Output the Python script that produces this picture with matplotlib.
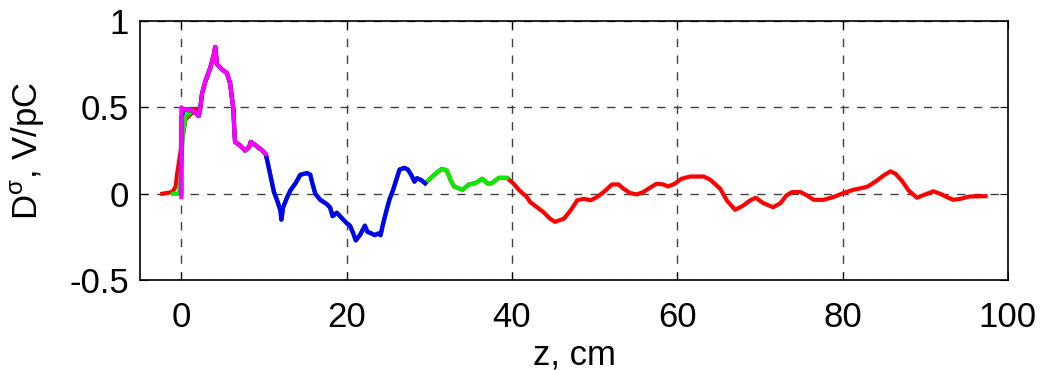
import matplotlib
matplotlib.use("Agg")
import matplotlib.pyplot as plt

plt.rcParams['font.family'] = ['Liberation Sans', 'DejaVu Sans']
plt.rcParams['mathtext.fontset'] = 'custom'
plt.rcParams['mathtext.rm'] = 'Liberation Sans'

# shared segments (z in cm, D in V/pC)
peak_z = [0.3, 1.5, 2.1, 2.3, 2.5, 2.9, 3.5, 3.9, 4.1, 4.3, 4.9, 5.5, 5.9, 6.1, 6.3, 6.4, 6.5,
          7.1, 7.7, 8.2, 8.4, 9.0, 9.8, 10.2]
peak_d = [0.49, 0.48, 0.45, 0.50, 0.58, 0.65, 0.73, 0.80, 0.85, 0.75, 0.72, 0.70, 0.64, 0.56, 0.49,
          0.37, 0.30, 0.28, 0.25, 0.27, 0.30, 0.28, 0.25, 0.23]

mid_z = [10.4, 10.8, 11.2, 11.6, 12.0, 12.1, 12.3, 12.8, 13.2, 13.8, 14.4, 15.2, 15.6, 15.8, 16.2,
         16.8, 17.6, 18.0, 18.3, 18.8, 19.4, 20.0, 20.4, 20.8, 21.1, 21.6, 22.2, 22.5, 23.0, 23.4,
         23.8, 24.1, 24.4, 24.8, 25.2, 25.6, 26.0, 26.4, 27.0, 27.4, 27.8, 28.2, 28.5, 29.0, 29.5]
mid_d = [0.19, 0.10, 0.01, -0.04, -0.10, -0.15, -0.08, -0.02, 0.02, 0.06, 0.11, 0.12, 0.11, 0.07, 0.0,
         -0.035, -0.06, -0.08, -0.13, -0.11, -0.14, -0.17, -0.185, -0.23, -0.27, -0.24, -0.185, -0.22, -0.23, -0.24,
         -0.23, -0.24, -0.175, -0.10, -0.03, 0.02, 0.08, 0.14, 0.15, 0.14, 0.11, 0.07, 0.09, 0.08, 0.06]

grn_z = [30.5, 31.5, 32.1, 32.6, 33.0, 34.0, 34.8, 35.6, 36.4, 37.1, 37.6, 38.4, 39.4]
grn_d = [0.106, 0.144, 0.135, 0.077, 0.042, 0.023, 0.054, 0.062, 0.087, 0.058, 0.062, 0.092, 0.092]

tail_z = [40.2, 40.9, 41.8, 42.2, 43.0, 43.8, 44.6, 45.2, 46.3, 47.1, 47.9, 48.7, 49.5, 50.3, 51.1,
          52.1, 52.9, 53.5, 54.3, 55.1, 55.9, 56.7, 57.5, 58.3, 58.9, 59.7, 60.5, 61.6, 63.2, 64.0,
          65.2, 66.0, 67.0, 68.0, 68.8, 69.5, 70.4, 71.6, 72.5, 73.2, 73.9, 74.9, 75.7, 76.5, 77.7,
          78.9, 80.1, 81.3, 82.5, 83.1, 84.2, 85.0, 85.8, 86.4, 87.2, 88.0, 89.0, 90.0, 91.0, 91.8,
          92.6, 93.4, 94.3, 95.3, 97.3]
tail_d = [0.058, 0.019, -0.019, -0.048, -0.077, -0.106, -0.144, -0.163, -0.144, -0.096, -0.038, -0.029, -0.038, -0.019, 0.01,
          0.054, 0.054, 0.029, 0.004, -0.004, 0.01, 0.035, 0.058, 0.054, 0.042, 0.058, 0.087, 0.10, 0.10, 0.081,
          0.029, -0.039, -0.093, -0.068, -0.039, -0.023, -0.054, -0.078, -0.054, -0.01, 0.01, 0.01, -0.01, -0.035, -0.035,
          -0.019, 0.004, 0.023, 0.035, 0.043, 0.078, 0.107, 0.13, 0.116, 0.074, 0.019, -0.023, -0.004, 0.014, 0.0,
          -0.019, -0.035, -0.029, -0.016, -0.014]

# starting parts, different for each run
red_head_z = [-2.3, -1.1, -0.7, -0.5, -0.3, 0.1, 0.5, 1.1, 1.9]
red_head_d = [0.0, 0.01, 0.04, 0.12, 0.18, 0.31, 0.43, 0.46, 0.49]
grn_head_z = [-1.0, -0.3, -0.1, 0.2, 0.5, 1.1]
grn_head_d = [0.0, 0.0, 0.1, 0.35, 0.45, 0.47]
blu_head_z = [0.0, 0.0, 0.2]
blu_head_d = [0.0, 0.45, 0.47]
mag_head_z = [0.0, 0.0]
mag_head_d = [-0.02, 0.50]

series = [
    ('red', red_head_z + peak_z + mid_z + grn_z + tail_z, red_head_d + peak_d + mid_d + grn_d + tail_d),
    ('#00ee00', grn_head_z + peak_z + mid_z + grn_z, grn_head_d + peak_d + mid_d + grn_d),
    ('blue', blu_head_z + peak_z + mid_z, blu_head_d + peak_d + mid_d),
    ('magenta', mag_head_z + peak_z, mag_head_d + peak_d),
]

fig = plt.figure(figsize=(10.57, 3.70), dpi=100)
ax = fig.add_axes([0.1325, 0.243, 0.821, 0.700])

for color, z, d in series:
    ax.plot(z, d, color=color, linewidth=3.0)

ax.set_xlim(-5, 100)
ax.set_ylim(-0.5, 1)
ax.set_xticks([0, 20, 40, 60, 80, 100])
ax.set_yticks([-0.5, 0, 0.5, 1])
ax.set_yticklabels(['-0.5', '0', '0.5', '1'])
ax.grid(True, color='0.25', linestyle=(0, (6, 6)), linewidth=1.0)
ax.tick_params(direction='in', top=True, right=True, length=6, labelsize=25)
ax.tick_params(axis='x', pad=15)
ax.tick_params(axis='y', pad=8)
for s in ax.spines.values():
    s.set_linewidth(1.2)

ax.set_xlabel('z, cm', fontsize=25, labelpad=3)
ax.set_ylabel(r'D$^{\mathrm{σ}}$, V/pC', fontsize=25, labelpad=16)

fig.savefig('out.png', dpi=100)
